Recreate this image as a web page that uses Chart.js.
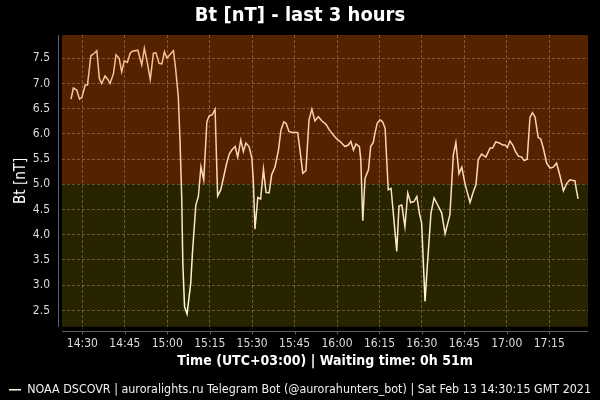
<!DOCTYPE html>
<html>
<head>
<meta charset="utf-8">
<script src="https://cdn.jsdelivr.net/npm/chart.js@4/dist/chart.umd.min.js"></script>
<style>
html,body{margin:0;padding:0;background:#000;}
#wrap{width:600px;height:400px;position:relative;}
</style>
</head>
<body>
<div id="wrap"><canvas id="c" width="600" height="400"></canvas></div>
<script>
const chartTitle = "Bt [nT] - last 3 hours";
const xAxisTitle = "Time (UTC+03:00) | Waiting time: 0h 51m";
const yAxisTitle = "Bt [nT]";
const seriesLabel = "NOAA DSCOVR | auroralights.ru Telegram Bot (@aurorahunters_bot) | Sat Feb 13 14:30:15 GMT 2021";

// sample times, minutes after 14:30 (UTC+03:00)
const minutes = [-4,-3.2,-2,-1,-0.2,1,1.8,3,4.2,5.1,6,6.8,8,9,9.8,11,11.9,13,13.9,14.8,15.9,16.9,17.7,19.6,21,21.9,23,24,25.1,26,27.1,28.1,29,29.9,30.9,32.2,33,33.9,34.5,35.1,35.5,36.1,37,38.3,38.9,40.1,41,41.9,42.9,44,44.8,45.9,46.9,47.8,48.9,50.1,51,51.9,52.8,54,54.9,56,56.9,57.8,58.9,59.9,60.4,61,62,63,64,64.9,66,66.9,68.1,69.3,70.2,71.2,72,73,74.2,76.1,76.9,77.9,79,80.1,81.1,82.2,83.4,84.6,86.1,87.3,88.7,89.9,91.1,92.8,94,94.9,95.8,96.7,97.9,98.4,99.1,99.9,101.1,101.9,102.8,103.4,104.2,105.2,106.1,107,108.1,109.1,110.1,111.1,111.9,112.9,114,115,116,117.2,118.2,119.1,119.9,121.1,121.9,123.2,124.3,125.4,127,128.2,129.9,131.1,132,133.1,134.1,135.2,137,138.2,139.1,139.9,141.1,142.6,144.1,145,146.1,147.4,148.6,149.4,150.2,151.1,152.1,153.1,154.1,155.3,156.1,157.2,158.2,159.1,160,161.1,162,162.9,164.1,165.3,166.4,167.6,168.8,170,171.2,172.3,174.1,174.6,175.2];

// Bt values [nT]
const bt = [6.69,6.91,6.87,6.69,6.72,6.97,6.97,7.55,7.60,7.65,7.10,7.00,7.15,7.08,7.00,7.20,7.57,7.50,7.23,7.45,7.42,7.60,7.64,7.66,7.37,7.70,7.40,7.08,7.60,7.61,7.40,7.39,7.63,7.50,7.57,7.65,7.27,6.74,5.88,4.76,3.44,2.58,2.43,3.04,3.64,4.59,4.76,5.35,5.09,6.24,6.36,6.38,6.49,4.77,4.89,5.19,5.42,5.60,5.68,5.75,5.54,5.88,5.65,5.82,5.75,5.52,5.09,4.11,4.74,4.71,5.30,4.84,4.83,5.19,5.35,5.68,6.08,6.24,6.21,6.05,6.03,6.03,5.68,5.22,5.27,6.28,6.49,6.26,6.34,6.26,6.19,6.08,5.98,5.90,5.85,5.75,5.78,5.85,5.68,5.80,5.75,5.49,4.28,5.12,5.29,5.75,5.83,6.01,6.21,6.28,6.24,6.11,4.89,4.92,4.30,3.67,4.57,4.59,4.16,4.83,4.64,4.66,4.76,4.43,4.23,2.68,3.37,4.43,4.73,4.61,4.43,4.02,4.40,5.58,5.83,5.21,5.34,5.02,4.64,4.86,4.99,5.49,5.60,5.54,5.72,5.72,5.84,5.82,5.78,5.78,5.73,5.86,5.78,5.65,5.56,5.54,5.47,5.50,6.33,6.42,6.33,5.93,5.90,5.72,5.42,5.32,5.34,5.42,5.17,4.87,5.02,5.09,5.07,4.89,4.71];

const xTickLabels = ["14:30","14:45","15:00","15:15","15:30","15:45","16:00","16:15","16:30","16:45","17:00","17:15"];
const yTickValues = [2.5,3.0,3.5,4.0,4.5,5.0,5.5,6.0,6.5,7.0,7.5];
const thresholdBt = 5.0;
const xRange = [-7.2, 178.7];   // minutes after 14:30
const yRange = [2.177, 7.962];  // nT

const baseMin = 14*60 + 30;
const toMin = s => { const [h,m] = s.split(':').map(Number); return h*60 + m - baseMin; };
const fmtMin = v => { const t = Math.round(v) + baseMin; const h = Math.floor(t/60), m = t%60; return String(h).padStart(2,'0') + ':' + String(m).padStart(2,'0'); };

const FONT = "'DejaVu Sans Condensed', 'DejaVu Sans', sans-serif";

const bgPlugin = {
  id: 'zones',
  beforeDraw(chart) {
    const {ctx, chartArea: a, scales: {y}} = chart;
    const yt = y.getPixelForValue(thresholdBt);
    ctx.save();
    ctx.fillStyle = '#552200';
    ctx.fillRect(a.left, a.top, a.right - a.left, yt - a.top);
    ctx.fillStyle = '#282400';
    ctx.fillRect(a.left, yt, a.right - a.left, a.bottom - yt);
    ctx.restore();
  },
  afterDraw(chart) {
    const {ctx, chartArea: a, scales: {x}} = chart;
    ctx.save();
    ctx.strokeStyle = '#5d616e';
    ctx.lineWidth = 1;
    ctx.beginPath();
    ctx.moveTo(a.left - 3.5, a.top);
    ctx.lineTo(a.left - 3.5, a.bottom);
    const by = Math.round(a.bottom) + 4.5;
    ctx.moveTo(a.left, by);
    ctx.lineTo(a.right, by);
    x.ticks.forEach(t => {
      const px = Math.round(x.getPixelForValue(t.value)) + 0.5;
      ctx.moveTo(px, by);
      ctx.lineTo(px, by + 3);
    });
    ctx.stroke();
    ctx.restore();
  },
  afterLayout(chart) {
    if (chart.legend) {
      chart.legend.top += 6; chart.legend.bottom += 6;
      chart.legend.left += 6; chart.legend.right += 6;
    }
    if (chart.titleBlock) {
      chart.titleBlock.left += 6; chart.titleBlock.right += 6;
    }
  }
};

const ctx = document.getElementById('c').getContext('2d');
new Chart(ctx, {
  type: 'line',
  data: {
    datasets: [{
      label: seriesLabel,
      data: minutes.map((m, i) => ({x: m, y: bt[i]})),
      borderWidth: 1.5,
      pointRadius: 0,
      tension: 0,
      borderColor: (c) => {
        const a = c.chart.chartArea;
        if (!a) return '#ffe0c0';
        const g = c.chart.ctx.createLinearGradient(0, a.top, 0, a.bottom);
        g.addColorStop(0, '#f7b88c');
        g.addColorStop(0.5, '#fcdcbc');
        g.addColorStop(1, '#ffffe4');
        return g;
      }
    }]
  },
  options: {
    responsive: false,
    animation: false,
    devicePixelRatio: 1,
    layout: { padding: { left: 0, right: 12, top: 0, bottom: 0 } },
    plugins: {
      title: {
        display: true,
        text: chartTitle,
        color: '#ffffff',
        font: { family: FONT, size: 20, weight: 'bold' },
        padding: { top: 4, bottom: 7 }
      },
      legend: {
        display: true,
        position: 'bottom',
        labels: {
          color: '#f0f0f0',
          font: { family: FONT, size: 12.4 },
          usePointStyle: true,
          pointStyle: 'line',
          pointStyleWidth: 12,
          padding: 8
        }
      },
      tooltip: { enabled: false }
    },
    scales: {
      x: {
        type: 'linear',
        min: xRange[0],
        max: xRange[1],
        afterBuildTicks: s => { s.ticks = xTickLabels.map(l => ({value: toMin(l)})); },
        afterFit: s => { s.height = 42.9; },
        ticks: {
          color: '#dddddd',
          font: { family: FONT, size: 12 },
          padding: 10,
          maxRotation: 0,
          autoSkip: false,
          callback: v => fmtMin(v)
        },
        grid: { color: 'rgba(230,190,150,0.35)', drawTicks: false, lineWidth: 1 },
        border: { display: false, dash: [3, 2] },
        title: {
          display: true,
          text: xAxisTitle,
          color: '#ffffff',
          font: { family: FONT, size: 14, weight: 'bold' },
          padding: { top: 0, bottom: 0 }
        }
      },
      y: {
        type: 'linear',
        min: yRange[0],
        max: yRange[1],
        afterBuildTicks: s => { s.ticks = yTickValues.map(v => ({value: v})); },
        afterFit: s => { s.width = 62; },
        ticks: {
          color: '#dddddd',
          font: { family: FONT, size: 12 },
          padding: 12,
          callback: v => Number(v).toFixed(1)
        },
        grid: { color: 'rgba(230,190,150,0.35)', drawTicks: false, lineWidth: 1 },
        border: { display: false, dash: [3, 2] },
        title: {
          display: true,
          text: yAxisTitle,
          color: '#ffffff',
          font: { family: FONT, size: 15 },
          padding: { top: 12, bottom: 0 }
        }
      }
    }
  },
  plugins: [bgPlugin]
});
</script>
</body>
</html>
